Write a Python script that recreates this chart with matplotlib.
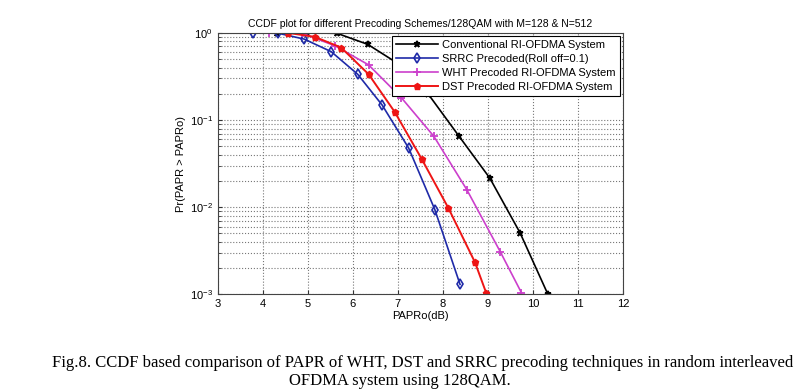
import numpy as np
import matplotlib
matplotlib.use("Agg")
import matplotlib.pyplot as plt
from matplotlib.ticker import LogLocator, NullFormatter

plt.rcParams['font.family'] = ['Liberation Sans', 'DejaVu Sans']

# CCDF curves (PAPRo in dB, probability)
conv_x = [4.31, 4.98, 5.65, 6.33, 6.98, 7.67, 8.36, 9.04, 9.71, 10.33]
conv_y = [1.0, 1.0, 0.99, 0.74, 0.453, 0.20, 0.065, 0.0216, 0.0051, 0.001]

srrc_x = [3.79, 4.35, 4.92, 5.52, 6.11, 6.65, 7.24, 7.82, 8.38]
srrc_y = [1.0, 0.99, 0.85, 0.61, 0.335, 0.149, 0.0477, 0.0094, 0.0013]

wht_x = [4.15, 4.88, 5.61, 6.35, 7.08, 7.80, 8.53, 9.27, 9.74]
wht_y = [1.0, 0.99, 0.71, 0.43, 0.18, 0.065, 0.0159, 0.0031, 0.00105]

dst_x = [4.57, 5.16, 5.74, 6.35, 6.93, 7.53, 8.12, 8.71, 8.96]
dst_y = [1.0, 0.90, 0.68, 0.336, 0.124, 0.0357, 0.0098, 0.00234, 0.00104]

labels = ['Conventional RI-OFDMA System', 'SRRC Precoded(Roll off=0.1)',
          'WHT Precoded RI-OFDMA System', 'DST Precoded RI-OFDMA System']

title = 'CCDF plot for different Precoding Schemes/128QAM with M=128 & N=512'
caption1 = ('Fig.8. CCDF based comparison of PAPR of WHT, DST and SRRC precoding '
            'techniques in random interleaved')
caption2 = 'OFDMA system using 128QAM.'

fig = plt.figure(figsize=(8, 3.92), dpi=100)
ax = fig.add_axes([0.272, 0.249, 0.507, 0.667])

ax.semilogy(conv_x, conv_y, '-*', color='black', lw=1.2, ms=5, mew=1.2, label=labels[0])
ax.semilogy(srrc_x, srrc_y, '-d', color='#1f2aa8', lw=1.2, ms=5, mew=1.2,
            mfc='none', label=labels[1])
ax.semilogy(wht_x, wht_y, '-+', color='#cc3fcc', lw=1.2, ms=6, mew=1.3, label=labels[2])
ax.semilogy(dst_x, dst_y, '-p', color='#ee1515', lw=1.4, ms=5, mew=1, label=labels[3])

ax.set_xlim(3, 12)
ax.set_ylim(1e-3, 1)
ax.set_xticks(np.arange(3, 13, 1))
ax.yaxis.set_major_locator(LogLocator(base=10, numticks=10))
ax.yaxis.set_minor_locator(LogLocator(base=10, subs=np.arange(2, 10), numticks=20))
ax.yaxis.set_minor_formatter(NullFormatter())
ax.tick_params(which='both', direction='in', labelsize=8, color='#333333')
ax.tick_params(which='major', length=3)
ax.tick_params(which='minor', length=2)
ax.grid(True, which='major', linestyle=':', color='#777777', lw=0.8)
ax.grid(True, which='minor', axis='y', linestyle=':', color='#777777', lw=0.8)
for s in ax.spines.values():
    s.set_color('#444444')
    s.set_linewidth(0.8)

ax.set_title(title, fontsize=7.5, pad=4)
ax.set_xlabel('PAPRo(dB)', fontsize=8, labelpad=1)
ax.set_ylabel('Pr(PAPR > PAPRo)', fontsize=8, labelpad=3)

leg = ax.legend(loc='upper right', fontsize=8, frameon=True, fancybox=False,
                framealpha=1, borderaxespad=0.3, handlelength=3.8,
                labelspacing=0.35, borderpad=0.35, handletextpad=0.4)
leg.get_frame().set_edgecolor('black')
leg.get_frame().set_linewidth(0.8)

fig.text(0.528, 0.074, caption1, ha='center', va='center', fontsize=12,
         family='Liberation Serif')
fig.text(0.5, 0.028, caption2, ha='center', va='center', fontsize=12,
         family='Liberation Serif')

fig.savefig('out.png', dpi=100)
